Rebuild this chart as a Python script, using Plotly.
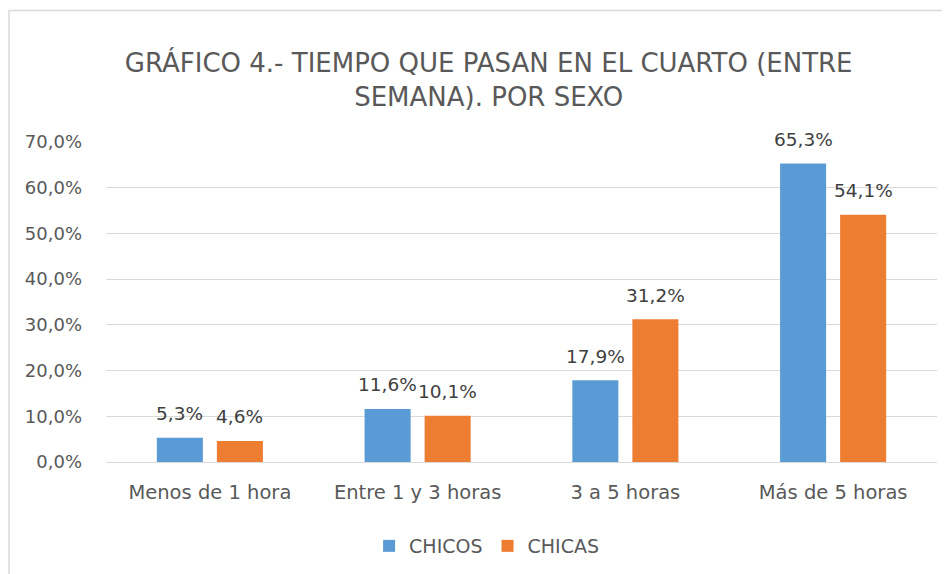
import plotly.graph_objects as go

categories = ["Menos de 1 hora", "Entre 1 y 3 horas", "3 a 5 horas", "Más de 5 horas"]
chicos = [0.053, 0.116, 0.179, 0.653]
chicas = [0.046, 0.101, 0.312, 0.541]
series_names = ["CHICOS", "CHICAS"]
tick_vals = [0, 0.1, 0.2, 0.3, 0.4, 0.5, 0.6, 0.7]

FONT = "DejaVu Sans, sans-serif"
colors = ["#5B9BD5", "#ED7D31"]
label_xshift = [-30, 30]

fig = go.Figure()
for name, vals, c in zip(series_names, [chicos, chicas], colors):
    fig.add_trace(go.Bar(
        x=categories, y=vals, name=name,
        marker=dict(color=c, line=dict(width=0)),
        cliponaxis=False,
    ))

for vals, xs in zip([chicos, chicas], label_xshift):
    for cat, v in zip(categories, vals):
        fig.add_annotation(
            x=cat, y=v, xref="x", yref="y",
            text=f"{v*100:.1f}%".replace(".", ","),
            showarrow=False, xshift=xs, yshift=24, yanchor="middle",
            font=dict(size=18.5, color="#404040", family=FONT),
        )

fig.update_layout(
    width=950, height=574,
    separators=",.",
    paper_bgcolor="white", plot_bgcolor="white",
    margin=dict(l=98, r=21, t=134, b=120),
    barmode="group", bargap=0.422, bargroupgap=0.233,
    font=dict(family=FONT, color="#595959", size=18),
    title=dict(
        text="GRÁFICO 4.- TIEMPO QUE PASAN EN EL CUARTO (ENTRE<br>SEMANA). POR SEXO",
        x=0.506, xanchor="center", y=0.888, yanchor="middle",
        font=dict(size=26, color="#595959", family=FONT),
    ),
    xaxis=dict(showgrid=False, showline=False, ticks="", ticklen=0,
               ticklabelstandoff=16,
               tickfont=dict(size=19.5, color="#595959")),
    yaxis=dict(range=[0, 0.7], tickvals=tick_vals, tickformat=".1%",
               showgrid=True, gridcolor="#D9D9D9", gridwidth=1,
               zeroline=True, zerolinecolor="#D9D9D9", zerolinewidth=1,
               showline=False, ticks="", ticklen=0,
               ticklabelstandoff=23,
               tickfont=dict(size=18, color="#595959")),
    legend=dict(orientation="h", x=0.458, xanchor="center", y=-0.2625, yanchor="middle",
                font=dict(size=19, color="#595959"), itemwidth=30, traceorder="normal"),
    shapes=[dict(type="rect", xref="paper", yref="paper",
                 x0=-0.1167, x1=1.05, y0=-0.5, y1=1.411,
                 line=dict(color="#D9D9D9", width=1.5), fillcolor="rgba(0,0,0,0)", layer="below")],
)

fig.write_html("out.html")
